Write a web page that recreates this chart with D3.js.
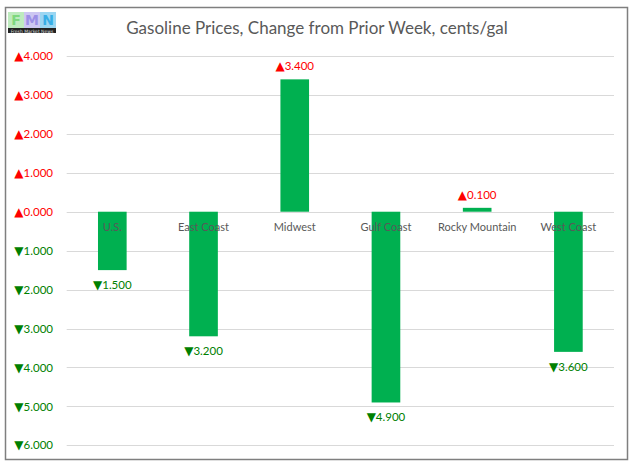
<!DOCTYPE html>
<html><head><meta charset="utf-8">
<script src="https://cdn.jsdelivr.net/npm/d3@7"></script>
<style>body{margin:0;background:#fff;}svg{display:block;}</style>
</head><body>
<script>
const categories = ["U.S.", "East Coast", "Midwest", "Gulf Coast", "Rocky Mountain", "West Coast"];
const values = [-1.5, -3.2, 3.4, -4.9, 0.1, -3.6];
const yTicks = [4, 3, 2, 1, 0, -1, -2, -3, -4, -5, -6];
const title = "Gasoline Prices, Change from Prior Week, cents/gal";

const W = 633, H = 469;
const svg = d3.select("body").append("svg").attr("width", W).attr("height", H);
const font = "Lato, 'Open Sans', sans-serif";

svg.append("rect").attr("x", 5.5).attr("y", 7.5).attr("width", 622).attr("height", 452)
  .attr("fill", "#fff").attr("stroke", "#7f7f7f").attr("stroke-width", 1.5);

const y = d3.scaleLinear().domain([-6, 4]).range([445.3, 56]);
const x = d3.scaleBand().domain(categories).range([66.7, 614]).paddingInner(0.686).paddingOuter(0.343);

const arrow = v => v >= 0 ? "\u25B2" : "\u25BC";
const num = v => d3.format(".3f")(Math.abs(v));
const col = v => v >= 0 ? "#ff0000" : "#008000";
function labelize(sel) {
  sel.text(null);
  sel.append("tspan").attr("font-family", "'DejaVu Sans', sans-serif").attr("font-size", 12).text(d => arrow(d));
  sel.append("tspan").text(d => num(d));
}

// gridlines
svg.append("g").selectAll("line").data(yTicks).join("line")
  .attr("x1", 66.7).attr("x2", 614)
  .attr("y1", d => Math.round(y(d)) + 0.5).attr("y2", d => Math.round(y(d)) + 0.5)
  .attr("stroke", "#d9d9d9").attr("stroke-width", 1);

// y axis labels
const yAxis = d3.axisLeft(y).tickValues(yTicks).tickSize(0).tickPadding(0);
const ga = svg.append("g").attr("transform", "translate(53,0)").call(yAxis);
ga.select(".domain").remove();
ga.selectAll("text").attr("font-family", font).attr("font-size", 11.5)
  .attr("fill", d => col(d)).call(labelize);

// bars
svg.append("g").selectAll("rect").data(values).join("rect")
  .attr("x", (d, i) => x(categories[i]))
  .attr("width", x.bandwidth())
  .attr("y", d => y(Math.max(0, d)))
  .attr("height", d => Math.abs(y(d) - y(0)))
  .attr("fill", "#00b050");

// category labels
svg.append("g").selectAll("text").data(categories).join("text")
  .attr("x", d => x(d) + x.bandwidth() / 2).attr("y", y(0) + 19)
  .attr("text-anchor", "middle").attr("font-family", font).attr("font-size", 11)
  .attr("fill", "#595959").text(d => d);

// data labels
svg.append("g").selectAll("text").data(values).join("text")
  .attr("x", (d, i) => x(categories[i]) + x.bandwidth() / 2)
  .attr("y", d => d >= 0 ? y(d) - 9 : y(d) + 19)
  .attr("text-anchor", "middle").attr("font-family", font).attr("font-size", 11.5)
  .attr("fill", d => col(d)).call(labelize);

// title
svg.append("text").attr("x", 317).attr("y", 34).attr("text-anchor", "middle")
  .attr("font-family", font).attr("font-size", 17).attr("fill", "#595959").text(title);

// logo
const logo = svg.append("g").attr("transform", "translate(8,12)");
const letters = [["F", "#7ed87e"], ["M", "#9c8fe6"], ["N", "#37aee6"]];
letters.forEach((l, i) => {
  logo.append("rect").attr("x", i * 16).attr("y", 0).attr("width", 16).attr("height", 16).attr("fill", l[1]).attr("opacity", 0.5);
  logo.append("text").attr("x", i * 16 + 8).attr("y", 13).attr("text-anchor", "middle")
    .attr("font-family", "'DejaVu Sans', sans-serif").attr("font-weight", "bold").attr("font-size", 14)
    .attr("fill", l[1]).text(l[0]);
});
logo.append("rect").attr("x", 0).attr("y", 16).attr("width", 48).attr("height", 5).attr("fill", "#222");
logo.append("text").attr("x", 24).attr("y", 20.5).attr("text-anchor", "middle")
  .attr("font-family", "'DejaVu Sans', sans-serif").attr("font-size", 4.5).attr("fill", "#ddd").text("Fresh Market News");
</script>
</body></html>
